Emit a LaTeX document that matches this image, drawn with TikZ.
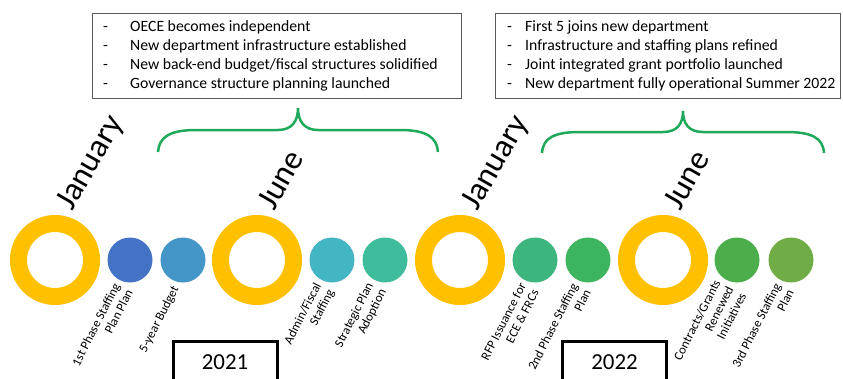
\documentclass[tikz,border=0pt]{standalone}
\usepackage{fontspec}
\setmainfont{Carlito}
\definecolor{gold}{HTML}{FFC000}
\definecolor{brgreen}{RGB}{30,170,90}
\definecolor{boxgray}{HTML}{595959}
\definecolor{cA}{HTML}{4472C4}
\definecolor{cB}{HTML}{4596C8}
\definecolor{cC}{HTML}{44B6C3}
\definecolor{cD}{HTML}{3FBC9B}
\definecolor{cE}{HTML}{3DB57F}
\definecolor{cF}{HTML}{3DB45E}
\definecolor{cG}{HTML}{4CAE4A}
\definecolor{cH}{HTML}{70AD47}
\tikzset{
  ring/.style={circle, draw=gold, line width=17bp, minimum size=73bp, inner sep=0pt},
  dot/.style={circle, fill=#1, minimum size=45bp, inner sep=0pt},
  dotlabel/.style={rotate=63, anchor=east, align=right, inner sep=0pt, font=\fontsize{12.8}{14.5}\selectfont},
  month/.style={rotate=60, anchor=base west, inner sep=0pt, font=\fontsize{33}{35}\selectfont},
  infobox/.style={draw=boxgray, line width=0.8bp, inner sep=0pt},
  infotext/.style={anchor=west, inner sep=0pt, font=\fontsize{15.8}{19}\selectfont},
  yearbox/.style={draw=black, line width=3bp, minimum width=104bp, minimum height=41bp, inner sep=0pt, font=\fontsize{23}{25}\selectfont},
  brace/.style={draw=brgreen, line width=2.5bp}
}
\begin{document}
\begin{tikzpicture}[x=1bp, y=-1bp]
\useasboundingbox (0,0) rectangle (843,378);
\clip (0,0) rectangle (843,378);

% info boxes
\node[infobox, minimum width=369bp, minimum height=85bp] (box1) at (276.5,55.5) {};
\node[infotext] (txt1) at (103,56.5) {\begin{tabular}{@{}p{27bp}@{}l@{}}
- & OECE becomes independent\\
- & New department infrastructure established\\
- & New back-end budget/fiscal structures solidified\\
- & Governance structure planning launched
\end{tabular}};
\node[infobox, minimum width=345bp, minimum height=85bp] (box2) at (667.5,55.5) {};
\node[infotext] (txt2) at (507,56.5) {\begin{tabular}{@{}p{18bp}@{}l@{}}
- & First 5 joins new department\\
- & Infrastructure and staffing plans refined\\
- & Joint integrated grant portfolio launched\\
- & New department fully operational Summer 2022
\end{tabular}};

% braces
\coordinate (b1l) at (158,152);
\coordinate (b1t) at (298,108);
\coordinate (b1r) at (438,152);
\draw[brace] (b1l) .. controls (159,137) and (170,130) .. (196,130)
  -- (278,130) .. controls (292,130) and (298,121) .. (b1t)
  .. controls (298,121) and (304,130) .. (318,130)
  -- (400,130) .. controls (426,130) and (437,137) .. (b1r);
\coordinate (b2l) at (542,153);
\coordinate (b2t) at (683,111);
\coordinate (b2r) at (824,153);
\draw[brace] (b2l) .. controls (543,138) and (554,132) .. (580,132)
  -- (663,132) .. controls (677,132) and (683,124) .. (b2t)
  .. controls (683,124) and (689,132) .. (703,132)
  -- (786,132) .. controls (812,132) and (823,138) .. (b2r);

% rings and months
\node[ring] (r1) at (55,260) {};
\node[ring] (r2) at (257,260) {};
\node[ring] (r3) at (460,260) {};
\node[ring] (r4) at (663,260) {};
\node[month] (m1) at (72,212) {January};
\node[month] (m2) at (274,212) {June};
\node[month] (m3) at (477,212) {January};
\node[month] (m4) at (680,212) {June};

% dots
\node[dot=cA] (d1) at (130,260) {};
\node[dot=cB] (d2) at (183,260) {};
\node[dot=cC] (d3) at (332,260) {};
\node[dot=cD] (d4) at (385,260) {};
\node[dot=cE] (d5) at (535,260) {};
\node[dot=cF] (d6) at (588,260) {};
\node[dot=cG] (d7) at (737,260) {};
\node[dot=cH] (d8) at (791,260) {};

\node[dotlabel] (l1) at (123,287) {1st Phase Staffing\\Plan Plan};
\node[dotlabel] (l2) at (176,287) {5-year Budget};
\node[dotlabel] (l3) at (325,287) {Admin/Fiscal\\Staffing};
\node[dotlabel] (l4) at (377,287) {Strategic Plan\\Adoption};
\node[dotlabel] (l5) at (529,287) {RFP Issuance for\\ECE \& FRCs};
\node[dotlabel] (l6) at (581,287) {2nd Phase Staffing\\Plan};
\node[dotlabel] (l7) at (730,287) {Contracts/Grants\\Renewed\\Initiatives};
\node[dotlabel] (l8) at (784,287) {3rd Phase Staffing\\Plan};

% year boxes
\node[yearbox, anchor=north] (y1) at (225,340) {2021};
\node[yearbox, anchor=north] (y2) at (614.5,340) {2022};
\end{tikzpicture}
\end{document}
